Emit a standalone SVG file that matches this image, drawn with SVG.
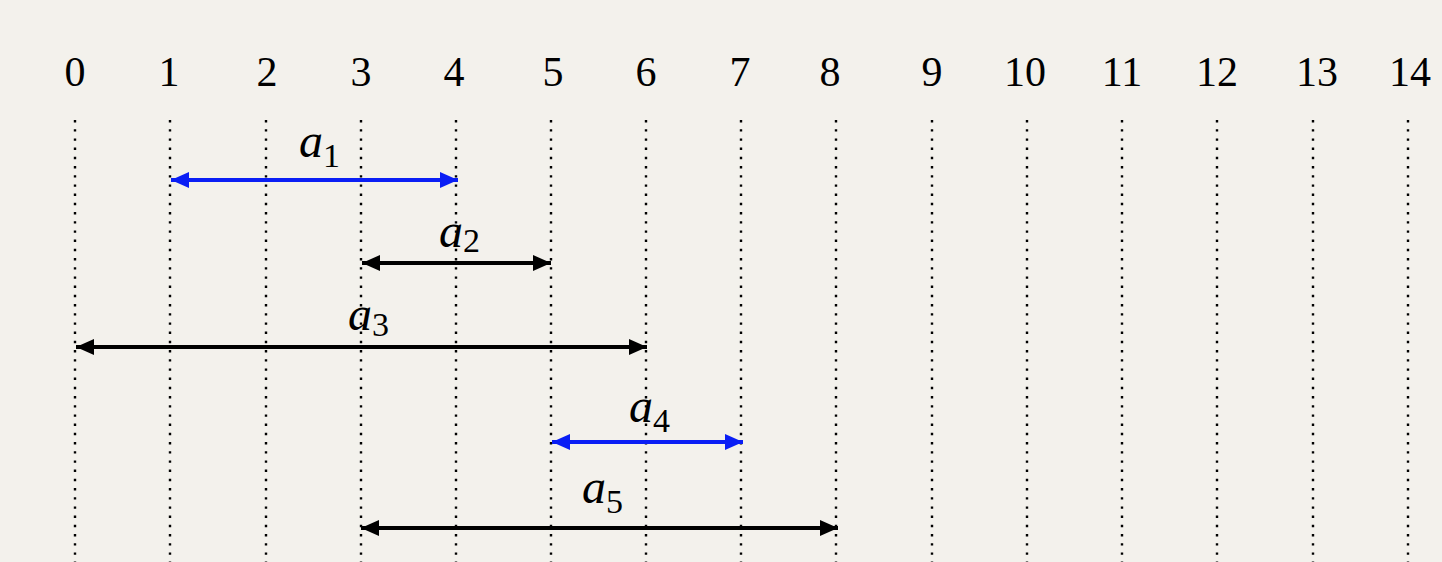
<svg xmlns="http://www.w3.org/2000/svg" width="1442" height="562" viewBox="0 0 1442 562">
<style>
.num{font-family:"Liberation Serif","Times New Roman",serif;font-size:42px;fill:#000;text-anchor:middle}
.lab{font-family:"Liberation Serif","Times New Roman",serif;font-size:48px;font-style:italic;fill:#000}
.sub{font-size:34px;font-style:normal}
.grid{stroke:#000;stroke-width:2.4;stroke-dasharray:2.4 6.8}
.blk{stroke:#000;stroke-width:4;fill:none}
.blu{stroke:#0a1ef5;stroke-width:4;fill:none}
</style>
<defs>
<marker id="hb" viewBox="0 0 18 16" refX="18" refY="8" markerWidth="18" markerHeight="16" markerUnits="userSpaceOnUse" orient="auto-start-reverse"><path d="M0,0 L18,8 L0,16 Z" fill="#000"/></marker>
<marker id="hu" viewBox="0 0 18 16" refX="18" refY="8" markerWidth="18" markerHeight="16" markerUnits="userSpaceOnUse" orient="auto-start-reverse"><path d="M0,0 L18,8 L0,16 Z" fill="#0a1ef5"/></marker>
</defs>
<rect width="1442" height="562" fill="#f3f1ec"/>
<g id="ticks">
<text class="num" x="75" y="86">0</text>
<text class="num" x="169" y="86">1</text>
<text class="num" x="267" y="86">2</text>
<text class="num" x="361" y="86">3</text>
<text class="num" x="454" y="86">4</text>
<text class="num" x="553" y="86">5</text>
<text class="num" x="646" y="86">6</text>
<text class="num" x="740" y="86">7</text>
<text class="num" x="830" y="86">8</text>
<text class="num" x="932" y="86">9</text>
<text class="num" x="1025" y="86">10</text>
<text class="num" x="1122" y="86">11</text>
<text class="num" x="1217" y="86">12</text>
<text class="num" x="1317" y="86">13</text>
<text class="num" x="1410" y="86">14</text>
</g>
<g id="gridlines">
<line class="grid" x1="75" y1="120" x2="75" y2="562"/>
<line class="grid" x1="170" y1="120" x2="170" y2="562"/>
<line class="grid" x1="266" y1="120" x2="266" y2="562"/>
<line class="grid" x1="361" y1="120" x2="361" y2="562"/>
<line class="grid" x1="456" y1="120" x2="456" y2="562"/>
<line class="grid" x1="551" y1="120" x2="551" y2="562"/>
<line class="grid" x1="646" y1="120" x2="646" y2="562"/>
<line class="grid" x1="741" y1="120" x2="741" y2="562"/>
<line class="grid" x1="836" y1="120" x2="836" y2="562"/>
<line class="grid" x1="932" y1="120" x2="932" y2="562"/>
<line class="grid" x1="1027" y1="120" x2="1027" y2="562"/>
<line class="grid" x1="1122" y1="120" x2="1122" y2="562"/>
<line class="grid" x1="1217" y1="120" x2="1217" y2="562"/>
<line class="grid" x1="1313" y1="120" x2="1313" y2="562"/>
<line class="grid" x1="1408" y1="120" x2="1408" y2="562"/>
</g>
<g id="connectors">
<line class="blu" x1="171" y1="180" x2="458" y2="180" marker-start="url(#hu)" marker-end="url(#hu)"/>
<line class="blk" x1="362" y1="263" x2="551" y2="263" marker-start="url(#hb)" marker-end="url(#hb)"/>
<line class="blk" x1="76" y1="347" x2="647" y2="347" marker-start="url(#hb)" marker-end="url(#hb)"/>
<line class="blu" x1="552" y1="442" x2="743" y2="442" marker-start="url(#hu)" marker-end="url(#hu)"/>
<line class="blk" x1="361" y1="528" x2="838" y2="528" marker-start="url(#hb)" marker-end="url(#hb)"/>
</g>
<g id="a1"><text class="lab" x="299" y="157">a<tspan class="sub" dy="10">1</tspan></text></g>
<g id="a2"><text class="lab" x="439" y="247">a<tspan class="sub" dy="5">2</tspan></text></g>
<g id="a3"><text class="lab" x="348" y="330">a<tspan class="sub" dy="6">3</tspan></text></g>
<g id="a4"><text class="lab" x="629" y="422">a<tspan class="sub" dy="10">4</tspan></text></g>
<g id="a5"><text class="lab" x="582" y="503">a<tspan class="sub" dy="10">5</tspan></text></g>
</svg>
